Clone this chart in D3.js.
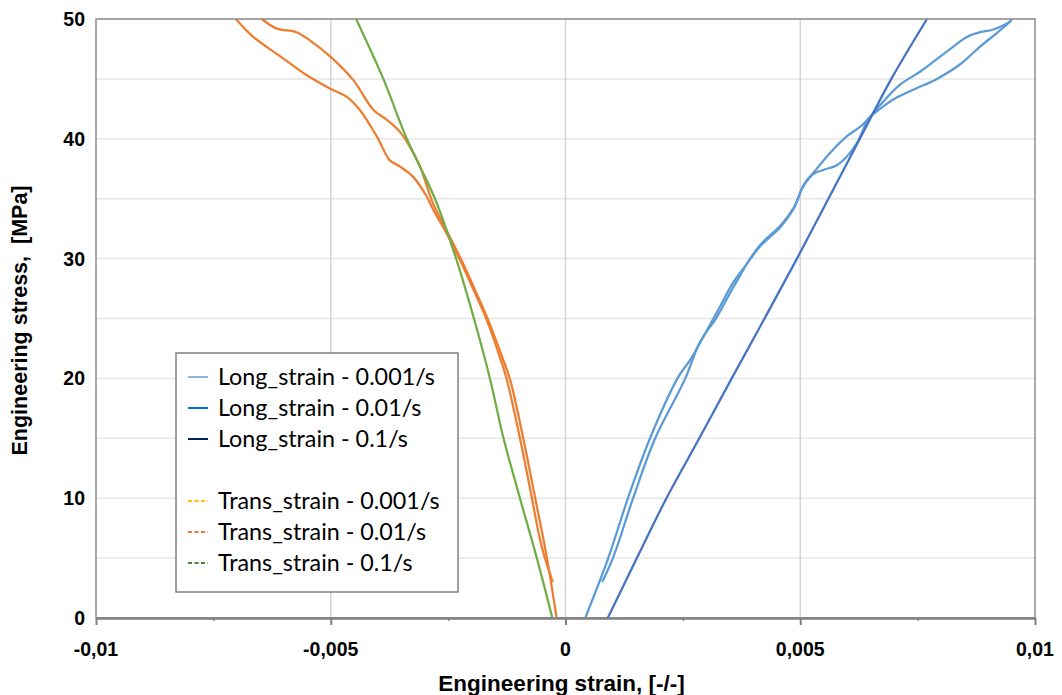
<!DOCTYPE html>
<html>
<head>
<meta charset="utf-8">
<script src="https://cdn.jsdelivr.net/npm/d3@7"></script>
<style>
  body { margin: 0; background: #fff; }
  svg { display: block; }
  .tick-label { font-family: "Liberation Sans Narrow", "Liberation Sans", sans-serif; font-weight: bold; font-size: 19.5px; fill: #000; }
  .axis-title { font-family: "Liberation Sans Narrow", "Liberation Sans", sans-serif; font-weight: bold; font-size: 22.5px; fill: #000; white-space: pre; }
  .legend-text { font-family: Lato, "Open Sans", sans-serif; font-size: 23.3px; fill: #000; }
</style>
</head>
<body>
<svg id="chart" width="1062" height="695"></svg>
<script>
// [strain, stress MPa] pairs
const longStrain001 = [
  [0.00042, 0], [0.00091, 5], [0.00133, 10], [0.0018, 15], [0.00237, 19.9], [0.0025, 20.7],
  [0.00265, 21.5], [0.00301, 24.0], [0.00329, 26.0], [0.00357, 28.0], [0.00387, 29.6],
  [0.00414, 31.0], [0.00457, 32.6], [0.00485, 34.1], [0.00506, 36.0], [0.00527, 37.1],
  [0.00563, 38.8], [0.00599, 40.2], [0.00634, 41.2], [0.00645, 41.7], [0.0067, 42.5],
  [0.00699, 43.3], [0.00741, 44.1], [0.00791, 45.0], [0.0084, 46.2], [0.00883, 47.7],
  [0.00918, 48.8], [0.00947, 49.8], [0.0095, 50]
]
const longStrain01 = [
  [0.00078, 3], [0.00101, 5], [0.00144, 10], [0.00191, 15], [0.00254, 19.9], [0.00286, 23],
  [0.00322, 25.1], [0.0035, 27.1], [0.00372, 28.6], [0.0039, 29.8], [0.00416, 31.2],
  [0.00459, 32.8], [0.00487, 34.3], [0.00508, 36.2], [0.00529, 37.1], [0.00549, 37.4],
  [0.00578, 37.8], [0.00599, 38.5], [0.0062, 39.6], [0.00645, 41.6], [0.0067, 42.8],
  [0.00712, 44.5], [0.00755, 45.6], [0.00826, 47.7], [0.00855, 48.5], [0.00883, 48.9],
  [0.0091, 49.1], [0.00947, 49.8], [0.0095, 50]
]
const longStrain1 = [
  [0.0009, 0], [0.00152, 5], [0.00215, 10], [0.00285, 15], [0.00354, 20], [0.00424, 25],
  [0.00493, 30], [0.0056, 35], [0.00627, 40], [0.00694, 45], [0.0077, 50]
]
const transStrain001 = [
  [-0.00027, 3.0], [-0.00051, 6.0], [-0.00072, 10.1], [-0.00097, 15.0], [-0.00125, 19.9],
  [-0.0014, 21.8], [-0.00168, 24.9], [-0.00196, 27.4], [-0.00225, 29.9], [-0.00253, 32.1],
  [-0.00282, 34.1], [-0.00296, 35.2], [-0.00324, 36.8], [-0.00353, 37.7], [-0.00374, 38.2],
  [-0.00402, 40.2], [-0.00438, 42.4], [-0.00466, 43.5], [-0.00502, 44.2], [-0.00551, 45.3],
  [-0.00608, 46.9], [-0.00665, 48.5], [-0.00702, 50]
]
const transStrain01 = [
  [-0.00019, 0], [-0.0004, 5.1], [-0.00065, 10.1], [-0.0009, 15.0], [-0.00118, 19.9],
  [-0.00135, 21.8], [-0.00165, 24.9], [-0.00193, 27.4], [-0.00222, 29.9], [-0.0025, 32.1],
  [-0.00282, 34.6], [-0.0031, 37.7], [-0.00331, 39.3], [-0.00353, 40.6], [-0.00381, 41.6],
  [-0.00409, 42.4], [-0.00452, 44.9], [-0.00502, 46.9], [-0.00544, 48.2], [-0.00573, 48.9],
  [-0.00615, 49.2], [-0.00647, 50]
]
const transStrain1 = [
  [-0.00028, 0], [-0.00061, 5], [-0.00097, 10], [-0.00132, 15], [-0.00161, 20], [-0.00195, 25],
  [-0.00233, 30], [-0.00278, 35], [-0.00338, 40], [-0.00388, 45], [-0.00446, 50]
]

const xTicks = [-0.01, -0.005, 0, 0.005, 0.01]
const xMinorTicks = [-0.0075, -0.0025, 0.0025, 0.0075]
const yTicks = [0, 10, 20, 30, 40, 50]
const yGrid = [5, 10, 15, 20, 25, 30, 35, 40, 45, 50]

const series = [
  {name: 'Long_strain - 0.001/s', data: longStrain001, color: '#5B9BD5', key: '#8EB4E3', dashed: false},
  {name: 'Long_strain - 0.01/s', data: longStrain01, color: '#5B9BD5', key: '#0070C0', dashed: false},
  {name: 'Long_strain - 0.1/s', data: longStrain1, color: '#4472C4', key: '#002060', dashed: false},
  null,
  {name: 'Trans_strain - 0.001/s', data: transStrain001, color: '#ED7D31', key: '#FFC000', dashed: true},
  {name: 'Trans_strain - 0.01/s', data: transStrain01, color: '#ED7D31', key: '#ED7D31', dashed: true},
  {name: 'Trans_strain - 0.1/s', data: transStrain1, color: '#70AD47', key: '#548235', dashed: true}
]

const svg = d3.select('#chart')
const plotLeft = 96, plotRight = 1035, plotTop = 19, plotBottom = 618

const x = d3.scaleLinear().domain([-0.01, 0.01]).range([plotLeft, plotRight])
const y = d3.scaleLinear().domain([0, 50]).range([plotBottom, plotTop])
const fmt = d => d === 0 ? '0' : String(d).replace('.', ',')

function renderGrid() {
  svg.append('g')
    .selectAll('line')
    .data(yGrid)
    .join('line')
    .attr('x1', plotLeft).attr('x2', plotRight)
    .attr('y1', d => y(d)).attr('y2', d => y(d))
    .attr('stroke', '#e6e6e6').attr('stroke-width', 1.5)

  svg.append('g')
    .selectAll('line')
    .data(xTicks.slice(1, -1))
    .join('line')
    .attr('x1', d => x(d)).attr('x2', d => x(d))
    .attr('y1', plotTop).attr('y2', plotBottom)
    .attr('stroke', '#d4d4d4').attr('stroke-width', 1.5)
}

function renderFrame() {
  svg.append('rect')
    .attr('x', plotLeft).attr('y', plotTop)
    .attr('width', plotRight - plotLeft).attr('height', plotBottom - plotTop)
    .attr('fill', 'none').attr('stroke', '#8c8c8c').attr('stroke-width', 1.5)

  // bottom axis with major and minor ticks
  svg.append('g').attr('transform', `translate(0,${plotBottom})`)
    .call(d3.axisBottom(x).tickValues(xTicks).tickSize(7).tickSizeOuter(0).tickFormat(''))
    .call(g => g.select('.domain').attr('stroke', '#808080').attr('stroke-width', 2.5))
    .call(g => g.selectAll('.tick line').attr('stroke', '#808080').attr('stroke-width', 2))

  svg.append('g').attr('transform', `translate(0,${plotBottom})`)
    .call(d3.axisBottom(x).tickValues(xMinorTicks).tickSize(3).tickFormat(''))
    .call(g => g.select('.domain').remove())
    .call(g => g.selectAll('.tick line').attr('stroke', '#808080').attr('stroke-width', 1.5))

  svg.append('g')
    .selectAll('text')
    .data(xTicks)
    .join('text')
    .attr('class', 'tick-label')
    .attr('x', d => x(d)).attr('y', 656)
    .attr('text-anchor', 'middle')
    .text(fmt)

  svg.append('g')
    .selectAll('text')
    .data(yTicks)
    .join('text')
    .attr('class', 'tick-label')
    .attr('x', 85).attr('y', d => y(d) + 7)
    .attr('text-anchor', 'end')
    .text(d => d)

  svg.append('text')
    .attr('class', 'axis-title')
    .attr('x', (plotLeft + plotRight) / 2 - 4).attr('y', 691)
    .attr('text-anchor', 'middle')
    .text('Engineering strain, [-/-]')

  svg.append('text')
    .attr('class', 'axis-title')
    .attr('transform', `translate(27,${(plotTop + plotBottom) / 2 + 2}) rotate(-90)`)
    .attr('text-anchor', 'middle')
    .style('font-size', '21.5px')
    .text('Engineering stress,  [MPa]')
}

function renderSeries() {
  svg.append('clipPath').attr('id', 'plot-clip')
    .append('rect')
    .attr('x', plotLeft).attr('y', plotTop - 1)
    .attr('width', plotRight - plotLeft).attr('height', plotBottom - plotTop + 1)

  const line = d3.line()
    .x(d => x(d[0]))
    .y(d => y(d[1]))
    .curve(d3.curveCatmullRom.alpha(0.5))

  svg.append('g')
    .attr('clip-path', 'url(#plot-clip)')
    .selectAll('path')
    .data(series.filter(s => s))
    .join('path')
    .attr('d', s => line(s.data))
    .attr('fill', 'none')
    .attr('stroke', s => s.color)
    .attr('stroke-width', 2.25)
    .attr('stroke-linejoin', 'round')
}

function renderLegend() {
  const g = svg.append('g')
  g.append('rect')
    .attr('x', 176).attr('y', 353)
    .attr('width', 282).attr('height', 239)
    .attr('fill', '#fff').attr('stroke', '#808080').attr('stroke-width', 1.5)

  const rows = g.selectAll('g')
    .data(series)
    .join('g')
    .attr('transform', (s, i) => `translate(0,${377 + i * 31})`)
    .filter(s => s)

  rows.append('line')
    .attr('x1', 188).attr('x2', 208)
    .attr('stroke', s => s.key)
    .attr('stroke-width', 2)
    .attr('stroke-dasharray', s => s.dashed ? '4,2.5' : null)

  rows.append('text')
    .attr('class', 'legend-text')
    .attr('x', 218).attr('y', 8)
    .text(s => s.name)
}

renderGrid()
renderSeries()
renderFrame()
renderLegend()
</script>
</body>
</html>
